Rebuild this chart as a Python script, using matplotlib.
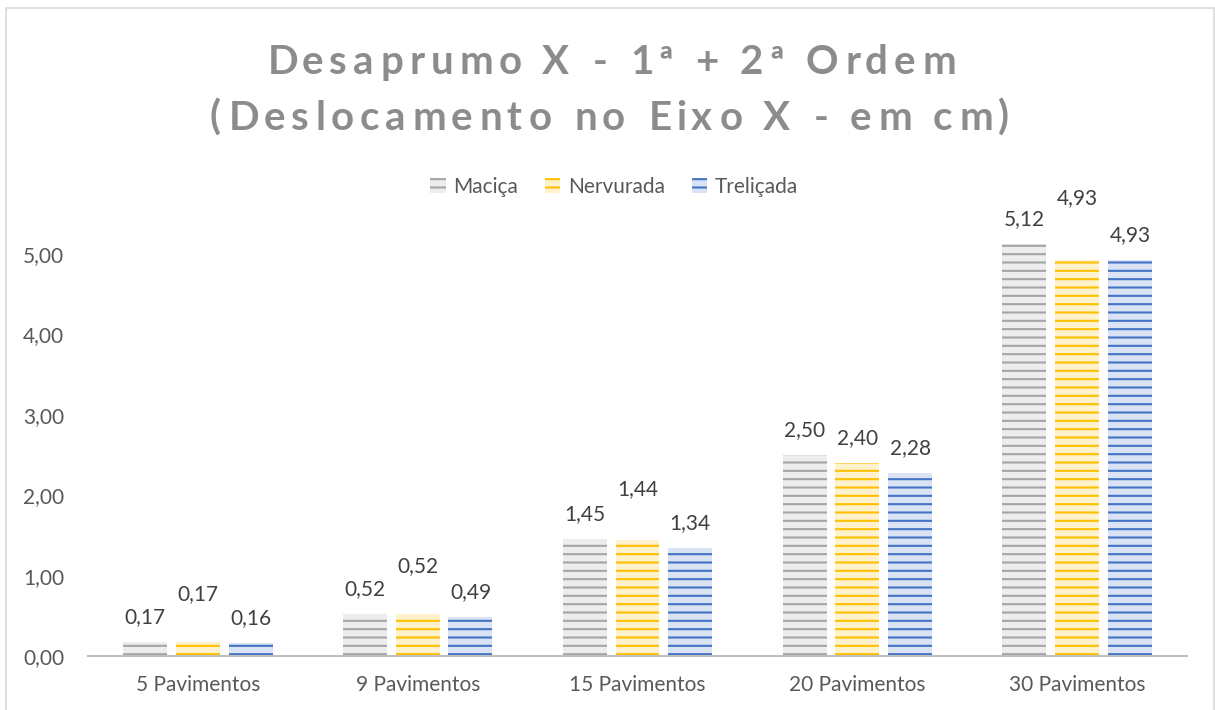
import matplotlib
matplotlib.use("Agg")
import matplotlib.pyplot as plt
import numpy as np
from matplotlib.patches import Patch, Rectangle
from matplotlib.font_manager import FontProperties, findfont
from matplotlib.ft2font import FT2Font

# ---- data ----
categories = ["5 Pavimentos", "9 Pavimentos", "15 Pavimentos", "20 Pavimentos", "30 Pavimentos"]
series_names = ["Maciça", "Nervurada", "Treliçada"]
macica = [0.17, 0.52, 1.45, 2.50, 5.12]
nervurada = [0.17, 0.52, 1.44, 2.40, 4.93]
trelicada = [0.16, 0.49, 1.34, 2.28, 4.93]
yticks = [0, 1, 2, 3, 4, 5]
title_lines = ["Desaprumo X - 1ª + 2ª Ordem", "(Deslocamento no Eixo X - em cm)"]

# ---- styles ----
stripe_colors = ["#A5A5A5", "#FFC000", "#4472C4"]
fill_colors = ["#EDEDED", "#FFF2CC", "#DAE3F3"]
# extra upward shift (px) of the middle-series labels, to keep them clear of neighbours
label_lift = [[0, 0, 0, 0, 0], [23, 23, 26, 0, 37], [0, 0, 0, 0, 0]]

W, H, DPI = 1215, 710, 100
FONT = "Lato"
plt.rcParams["font.family"] = [FONT, "DejaVu Sans"]
plt.rcParams["hatch.linewidth"] = 1.5

fig = plt.figure(figsize=(W / DPI, H / DPI), dpi=DPI)
ax = fig.add_axes([88 / W, 54 / H, (1187 - 88) / W, (656 - 173.6) / H])

x = np.arange(len(categories))
bw = 0.2
step = 0.24
all_series = [macica, nervurada, trelicada]
handles = []
for i, vals in enumerate(all_series):
    pos = x + (i - 1) * step
    ax.bar(pos, vals, width=bw, facecolor=fill_colors[i],
           edgecolor=stripe_colors[i], linewidth=0, hatch="--")
    for j, (p, v) in enumerate(zip(pos, vals)):
        lift = label_lift[i][j] * 72 / DPI
        ax.annotate(f"{v:.2f}".replace(".", ","), (p, v),
                    xytext=(0, 18 + lift), textcoords="offset points",
                    ha="center", va="center", fontsize=15, color="#404040",
                    annotation_clip=False)
    handles.append(Patch(facecolor=fill_colors[i], edgecolor=stripe_colors[i],
                         linewidth=0, hatch="--", label=series_names[i]))

ax.set_xlim(-0.5, 4.5)
ax.set_ylim(0, 6)
ax.set_yticks(yticks)
ax.set_yticklabels([f"{t:.2f}".replace(".", ",") for t in yticks])
ax.set_xticks(x)
ax.set_xticklabels(categories)
for s in ["left", "right", "top"]:
    ax.spines[s].set_visible(False)
ax.spines["bottom"].set_color("#BFBFBF")
ax.spines["bottom"].set_linewidth(1.5)
ax.tick_params(axis="both", length=0, labelsize=15, colors="#595959")
ax.tick_params(axis="y", pad=17)
ax.tick_params(axis="x", pad=14)

fig.legend(handles=handles, loc="center", bbox_to_anchor=(614 / W, 1 - 187 / H),
           ncol=3, frameon=False, fontsize=15, labelcolor="#595959",
           handlelength=0.75, handleheight=0.75, handletextpad=0.35,
           columnspacing=1.3)

# ---- letter-spaced title, drawn glyph by glyph ----
title_size = 29
tracking = 6.0
prop = FontProperties(family=FONT, weight="bold", size=title_size)
ft = FT2Font(findfont(prop))
ft.set_size(title_size, DPI)


def spaced_line(text, cx, baseline_y):
    advs, bears = [], []
    for ch in text:
        g = ft.load_char(ord(ch))
        advs.append(g.linearHoriAdvance / 65536)
        bears.append(g.horiBearingX / 64)
    total = sum(advs) + tracking * (len(text) - 1)
    pen = cx - total / 2
    for ch, a, b in zip(text, advs, bears):
        if ch != " ":
            fig.text((pen + b) / W, 1 - baseline_y / H, ch, fontproperties=prop,
                     color="#8C8C8C", ha="left", va="baseline")
        pen += a + tracking


spaced_line(title_lines[0], 609, 74)
spaced_line(title_lines[1], 608, 130)

# chart-area border
fig.patches.append(Rectangle((5.5 / W, -0.05), (1213.5 - 5.5) / W, 1.05 - 7.5 / H,
                             transform=fig.transFigure, fill=False,
                             edgecolor="#D9D9D9", linewidth=1.2))

fig.savefig("out.png", dpi=DPI)
